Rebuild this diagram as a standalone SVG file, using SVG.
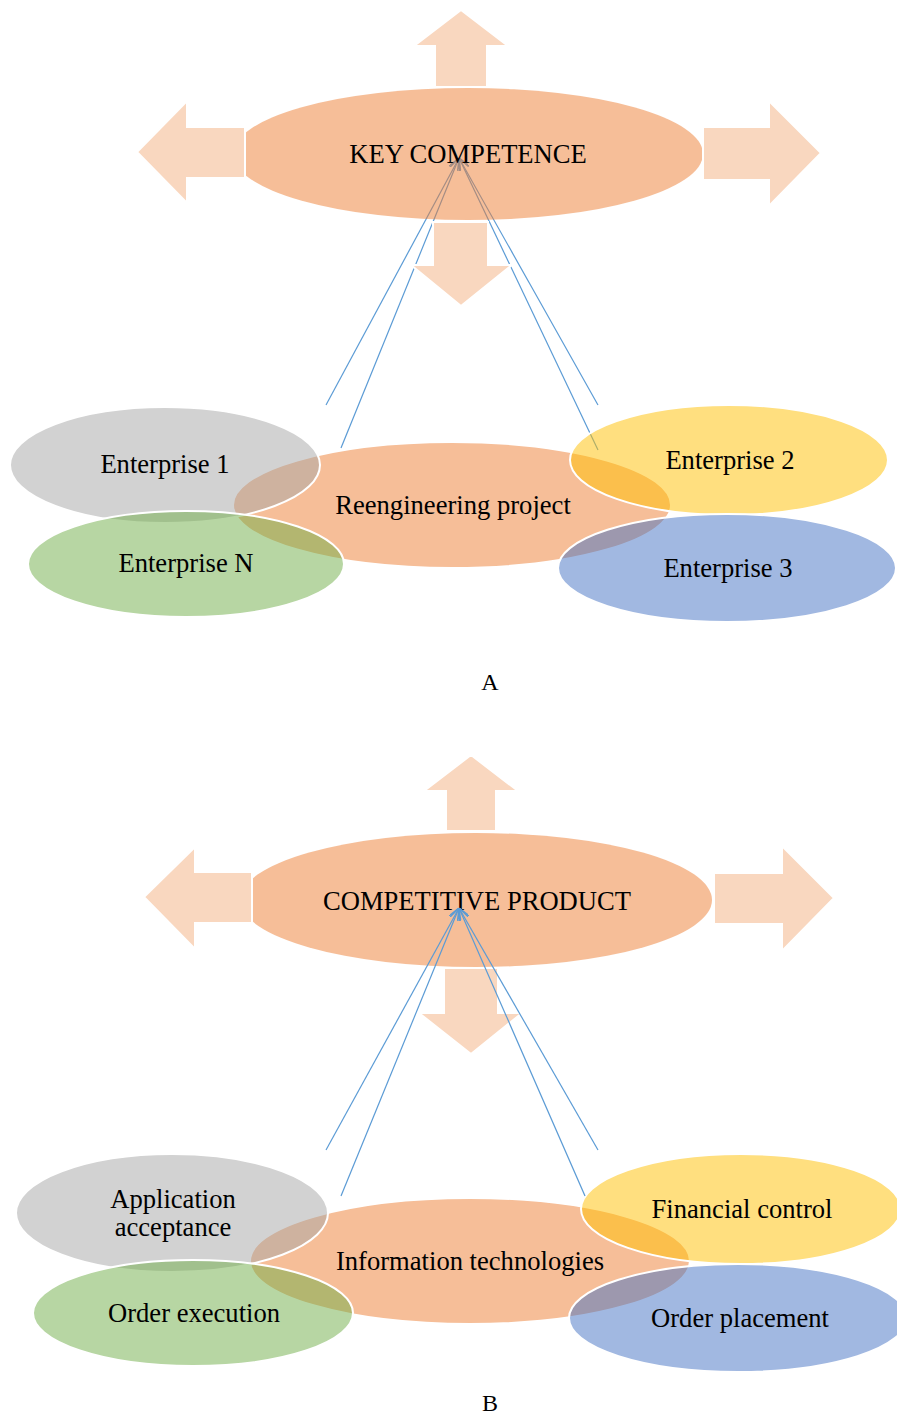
<svg xmlns="http://www.w3.org/2000/svg" width="897" height="1414" viewBox="0 0 897 1414">
<defs>
<marker id="ah" viewBox="0 0 12 10" refX="12" refY="5" markerWidth="12" markerHeight="10" markerUnits="userSpaceOnUse" orient="auto">
<path d="M0,0 L12,5 L0,10" fill="none" stroke="#5B9BD5" stroke-width="1.5"/>
</marker>
</defs>
<style>
.arr{fill:#F9D7BF;stroke:#fff;stroke-width:2}
.o{fill:#ED7D31;fill-opacity:.5;stroke:#fff;stroke-width:2}
.ob{fill:#ED7D31;fill-opacity:.5;stroke:none}
.g{fill:#A5A5A5;fill-opacity:.5;stroke:#fff;stroke-width:2}
.gr{fill:#70AD47;fill-opacity:.5;stroke:#fff;stroke-width:2}
.y{fill:#FFC000;fill-opacity:.5;stroke:#fff;stroke-width:2}
.b{fill:#4472C4;fill-opacity:.5;stroke:#fff;stroke-width:2}
.ln{stroke:#5B9BD5;stroke-width:1.2;fill:none;marker-end:url(#ah)}
text{font-family:"Liberation Serif","Times New Roman",serif;font-size:26.6px;fill:#000;text-anchor:middle}
.cap{font-size:24px}
</style>

<!-- ===== Diagram A ===== -->
<g id="connectorsA">
<line class="ln" x1="326" y1="405" x2="459" y2="158"/>
<line class="ln" x1="341" y1="448" x2="459" y2="158"/>
<line class="ln" x1="598" y1="405" x2="459" y2="158"/>
<line class="ln" x1="598" y1="450" x2="459" y2="158"/>
</g>
<g id="keyCompetence">
<ellipse class="ob" cx="468" cy="154" rx="235" ry="66"/>
<polygon id="arrowA-up" class="arr" points="435,87 435,46 414,46 461,10 508,46 487,46 487,87"/>
<polygon id="arrowA-left" class="arr" points="245,127 187,127 187,101 137,152 187,203 187,178 245,178"/>
<polygon id="arrowA-right" class="arr" points="703,127 769,127 769,101 821,153 769,206 769,180 703,180"/>
<polygon id="arrowA-down" class="arr" points="433,222 488,222 488,265 512,265 461,306 411,265 433,265"/>
<text x="468" y="163">KEY COMPETENCE</text>
</g>
<g id="reengineering">
<ellipse class="o" cx="452" cy="505" rx="219" ry="63"/>
</g>
<g id="enterprise1">
<ellipse class="g" cx="165" cy="465" rx="155" ry="58"/>
</g>
<g id="enterprise2">
<ellipse class="y" cx="729" cy="460" rx="159" ry="55"/>
</g>
<g id="enterprise3">
<ellipse class="b" cx="727" cy="568" rx="169" ry="54"/>
</g>
<g id="enterpriseN">
<ellipse class="gr" cx="186" cy="564" rx="158" ry="53"/>
</g>
<g id="labelsA">
<text x="453" y="514">Reengineering project</text>
<text x="165" y="473">Enterprise 1</text>
<text x="730" y="469">Enterprise 2</text>
<text x="728" y="577">Enterprise 3</text>
<text x="186" y="572">Enterprise N</text>
<text class="cap" x="490" y="690">A</text>
</g>

<!-- ===== Diagram B ===== -->
<g id="competitiveProduct">
<ellipse class="ob" cx="476" cy="900" rx="236" ry="67"/>
<polygon id="arrowB-up" class="arr" points="446,831 446,791 424,791 471,755 518,791 496,791 496,831"/>
<polygon id="arrowB-left" class="arr" points="252,872 195,872 195,847 144,897 195,949 195,923 252,923"/>
<polygon id="arrowB-right" class="arr" points="714,873 782,873 782,846 834,898 782,951 782,924 714,924"/>
<polygon id="arrowB-down" class="arr" points="444,968 498,968 498,1013 522,1013 471,1054 419,1013 444,1013"/>
<text x="477" y="910">COMPETITIVE PRODUCT</text>
</g>
<g id="infoTech">
<ellipse class="o" cx="470" cy="1261" rx="220" ry="63"/>
</g>
<g id="appAcceptance">
<ellipse class="g" cx="172" cy="1213" rx="156" ry="59"/>
</g>
<g id="financialControl">
<ellipse class="y" cx="741" cy="1209" rx="160" ry="55"/>
</g>
<g id="orderPlacement">
<ellipse class="b" cx="738" cy="1318" rx="169" ry="54"/>
</g>
<g id="orderExecution">
<ellipse class="gr" cx="193" cy="1313" rx="160" ry="53"/>
</g>
<g id="labelsB">
<text x="470" y="1270">Information technologies</text>
<text x="173" y="1208">Application</text>
<text x="173" y="1236">acceptance</text>
<text x="742" y="1218">Financial control</text>
<text x="194" y="1322">Order execution</text>
<text x="740" y="1327">Order placement</text>
<text class="cap" x="490" y="1411">B</text>
</g>
<g id="connectorsB">
<line class="ln" x1="326" y1="1150" x2="459" y2="908"/>
<line class="ln" x1="341" y1="1196" x2="459" y2="908"/>
<line class="ln" x1="598" y1="1150" x2="459" y2="908"/>
<line class="ln" x1="585" y1="1196" x2="459" y2="908"/>
</g>
</svg>
